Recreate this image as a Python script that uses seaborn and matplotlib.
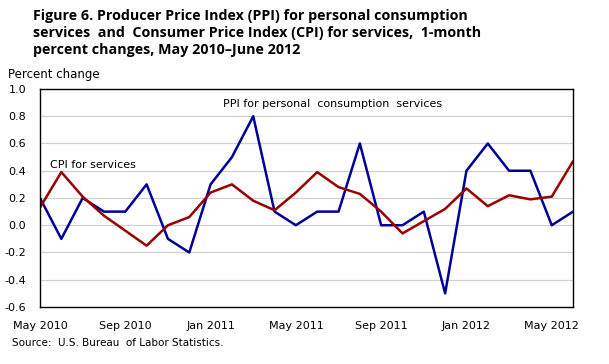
import numpy as np
import pandas as pd
import matplotlib
matplotlib.use("Agg")
import matplotlib.pyplot as plt
import seaborn as sns

MONTHS = ["May 2010", "Jun 2010", "Jul 2010", "Aug 2010", "Sep 2010", "Oct 2010",
          "Nov 2010", "Dec 2010", "Jan 2011", "Feb 2011", "Mar 2011", "Apr 2011",
          "May 2011", "Jun 2011", "Jul 2011", "Aug 2011", "Sep 2011", "Oct 2011",
          "Nov 2011", "Dec 2011", "Jan 2012", "Feb 2012", "Mar 2012", "Apr 2012",
          "May 2012", "Jun 2012"]

PPI = [0.2, -0.1, 0.2, 0.1, 0.1, 0.3, -0.1, -0.2, 0.3, 0.5, 0.8, 0.1,
       0.0, 0.1, 0.1, 0.6, 0.0, 0.0, 0.1, -0.5, 0.4, 0.6, 0.4, 0.4, 0.0, 0.1]

CPI = [0.13, 0.39, 0.21, 0.07, -0.04, -0.15, 0.0, 0.06, 0.24, 0.30, 0.18, 0.11,
       0.24, 0.39, 0.28, 0.23, 0.10, -0.06, 0.03, 0.12, 0.27, 0.14, 0.22, 0.19,
       0.21, 0.47]

XTICK_LABELS = ["May 2010", "Sep 2010", "Jan 2011", "May 2011",
                "Sep 2011", "Jan 2012", "May 2012"]
YTICKS = [-0.6, -0.4, -0.2, 0.0, 0.2, 0.4, 0.6, 0.8, 1.0]

df = pd.DataFrame({
    "idx": list(range(len(MONTHS))) * 2,
    "value": PPI + CPI,
    "series": ["PPI"] * len(PPI) + ["CPI"] * len(CPI),
})

sns.set_style("white")
plt.rcParams["font.family"] = ["DejaVu Sans"]
plt.rcParams["text.color"] = "black"
plt.rcParams["xtick.color"] = "black"
plt.rcParams["ytick.color"] = "black"

fig = plt.figure(figsize=(6.09, 3.64), dpi=100)
ax = fig.add_axes([0.0657, 0.1566, 0.8753, 0.5989])

sns.lineplot(data=df, x="idx", y="value", hue="series",
             palette={"PPI": "#000099", "CPI": "#990000"},
             linewidth=1.8, legend=False, ax=ax)

ax.set_xlim(0, len(MONTHS) - 1)
ax.set_ylim(-0.6, 1.0)
ax.set_yticks(YTICKS)
ax.set_yticklabels([f"{v:.1f}" for v in YTICKS], fontsize=8)
xt = [MONTHS.index(m) for m in XTICK_LABELS]
ax.set_xticks(xt)
ax.set_xticklabels(XTICK_LABELS, fontsize=8)
ax.tick_params(axis="x", length=4, width=0.8, color="black", pad=6, direction="out")
ax.tick_params(axis="y", length=0, pad=10)
ax.set_xlabel("")
ax.set_ylabel("")
for y in YTICKS[1:-1]:
    ax.axhline(y, color="#d0d0d0", linewidth=0.9, zorder=0)
for s in ax.spines.values():
    s.set_color("black")
    s.set_linewidth(1.0)

ax.text(8.6, 0.87, "PPI for personal  consumption  services", fontsize=8)
ax.text(0.45, 0.42, "CPI for services", fontsize=8)

fig.text(0.054, 0.975, "Figure 6. Producer Price Index (PPI) for personal consumption\n"
         "services  and  Consumer Price Index (CPI) for services,  1-month\n"
         "percent changes, May 2010\u2013June 2012",
         fontsize=10.3, fontweight="bold", family="Open Sans", va="top",
         linespacing=1.25)
fig.text(0.013, 0.785, "Percent change", fontsize=8.5)
fig.text(0.02, 0.05, "Source:  U.S. Bureau  of Labor Statistics.", fontsize=7.5)

fig.savefig("out.png", dpi=100)
